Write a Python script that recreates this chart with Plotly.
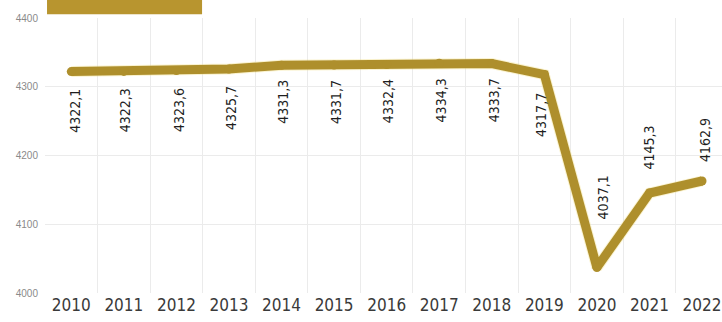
import plotly.graph_objects as go

years = [2010, 2011, 2012, 2013, 2014, 2015, 2016, 2017, 2018, 2019, 2020, 2021, 2022]
values = [4322.1, 4322.3, 4323.6, 4325.7, 4331.3, 4331.7, 4332.4, 4334.3, 4333.7, 4317.7, 4037.1, 4145.3, 4162.9]
y_ticks = [4000, 4100, 4200, 4300, 4400]

# label placement (style): pixel offsets per point
label_dx = [3, 2, 2, 2, 2, 2, 2, 2, 2, -4, 7, 0, 3]
label_dy = [-39, -39, -39, -39, -37, -37, -37, -37, -37, -40, 70, 46, 41]

GOLD = "#AE8F2C"
NARROW = "Liberation Sans Narrow, Arial Narrow, DejaVu Sans Condensed, Liberation Sans, Arial, sans-serif"

fig = go.Figure()
fig.add_trace(go.Scatter(
    x=years, y=values, mode="lines",
    line=dict(color="rgba(240,220,120,0.35)", width=11),
    hoverinfo="skip", showlegend=False,
))
fig.add_trace(go.Scatter(
    x=years, y=values, mode="lines+markers",
    line=dict(color=GOLD, width=9),
    marker=dict(color=GOLD, size=9, line=dict(width=0)),
    showlegend=False,
))

for i, (x, v) in enumerate(zip(years, values)):
    fig.add_annotation(
        x=x, y=v, text=f"{v:.1f}".replace(".", ","),
        textangle=-90, showarrow=False,
        xanchor="center", yanchor="middle",
        xshift=label_dx[i], yshift=label_dy[i],
        font=dict(family=NARROW, size=14, color="#1e1e1e"),
    )

# cropped title box at top
fig.add_shape(type="rect", xref="paper", yref="paper",
              x0=0.003, x1=0.232, y0=1.014, y1=1.08,
              fillcolor="#B8952F", line=dict(width=0), layer="above")

fig.update_layout(
    width=722, height=322,
    margin=dict(l=45, r=0, t=18, b=29),
    paper_bgcolor="white", plot_bgcolor="white",
    xaxis=dict(
        range=[2009.5, 2022.38],
        tickvals=years, ticktext=[str(y) for y in years],
        showgrid=False, zeroline=False, showline=False, ticks="",
        tickfont=dict(family=NARROW, size=17, color="#3a3a3a"),
        minor=dict(tick0=2009.5, dtick=1, showgrid=True, gridcolor="#ebebeb", gridwidth=1, ticks=""),
        fixedrange=True,
    ),
    yaxis=dict(
        range=[4000, 4400],
        tickvals=y_ticks, ticktext=[str(t) for t in y_ticks],
        showgrid=True, gridcolor="#ebebeb", gridwidth=1,
        zeroline=False, showline=False, ticks="",
        tickfont=dict(family="Liberation Sans, Arial, sans-serif", size=10, color="#8a8a8a"),
        ticklabelstandoff=6,
        fixedrange=True,
    ),
)

fig.write_html("out.html")
